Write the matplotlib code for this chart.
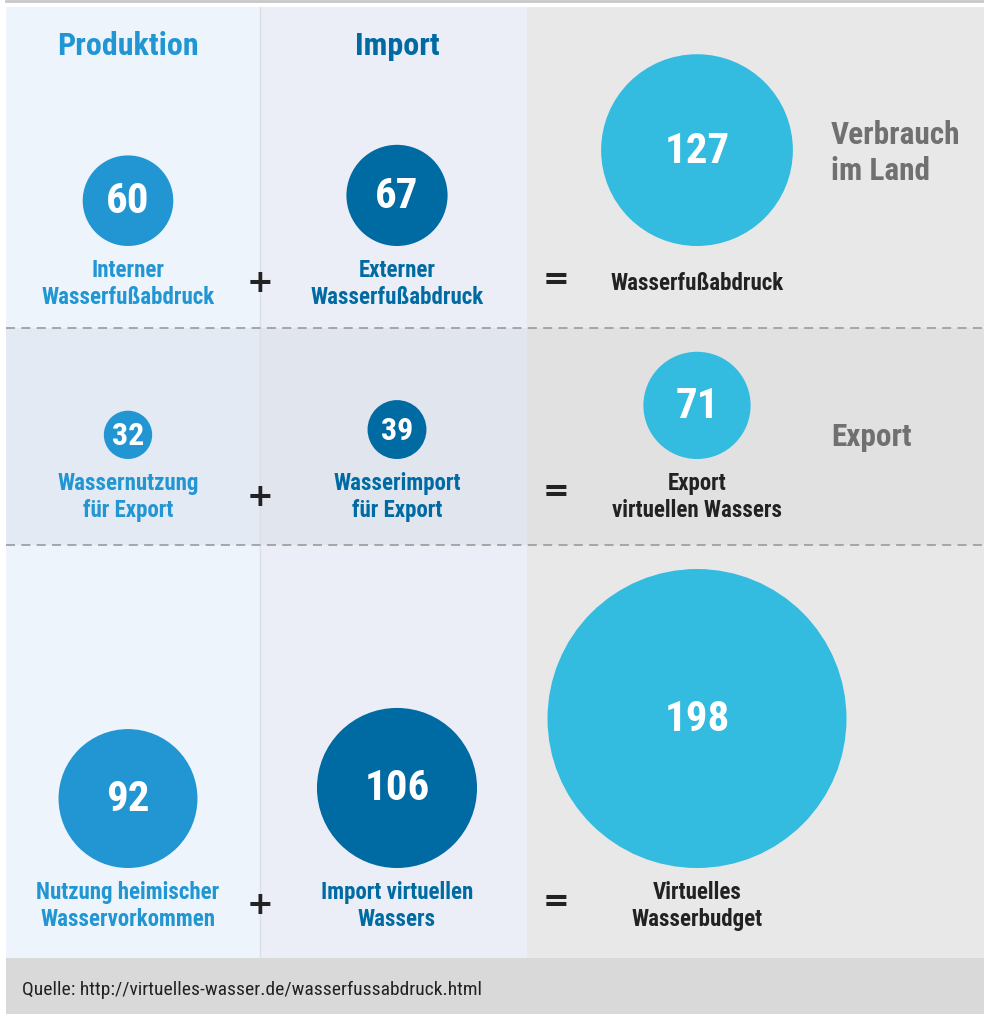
import matplotlib
matplotlib.use("Agg")
import matplotlib.pyplot as plt
from matplotlib.patches import Rectangle, Circle
from matplotlib import font_manager

# data
produktion_vals = [60, 32, 92]
import_vals = [67, 39, 106]
total_vals = [127, 71, 198]
produktion_labels = ["Interner\nWasserfußabdruck", "Wassernutzung\nfür Export",
                     "Nutzung heimischer\nWasservorkommen"]
import_labels = ["Externer\nWasserfußabdruck", "Wasserimport\nfür Export",
                 "Import virtuellen\nWassers"]
total_labels = ["Wasserfußabdruck", "Export\nvirtuellen Wassers",
                "Virtuelles\nWasserbudget"]
side_labels = ["Verbrauch\nim Land", "Export", ""]
headers = ["Produktion", "Import"]
source = "Quelle: http://virtuelles-wasser.de/wasserfussabdruck.html"

# pick a narrow font if there is one
installed = {f.name for f in font_manager.fontManager.ttflist}
font = "DejaVu Sans"
for name in ["Liberation Sans Narrow", "Roboto Condensed", "Open Sans Condensed",
             "Noto Sans", "Roboto"]:
    if name in installed:
        font = name
        break
plt.rcParams["font.family"] = [font, "DejaVu Sans"]

c_prod = "#2196D3"
c_imp = "#006AA3"
c_tot = "#33BBE0"
c_dark = "#222222"
c_side = "#707070"

fig = plt.figure(figsize=(9.84, 10.14), dpi=100)
ax = fig.add_axes([0, 0, 1, 1])
ax.set_xlim(0, 984)
ax.set_ylim(1014, 0)
ax.set_aspect("equal")
ax.axis("off")

# layout (pixels)
col_edges = [6, 260, 527, 984]
row_edges = [7, 328, 545, 958]
col_x = [128, 397, 697]
baselines = [246, 459, 868]
label_y = [284, 497, 906]
scale = 0.755  # radius in px per unit

bg = [["#EDF4FC", "#EBEEF6", "#E8E8E8"],
      ["#E3EAF3", "#E1E5EE", "#E1E1E1"],
      ["#EDF4FC", "#EBEEF6", "#E8E8E8"]]
for r in range(3):
    for c in range(3):
        ax.add_patch(Rectangle((col_edges[c], row_edges[r]),
                               col_edges[c + 1] - col_edges[c],
                               row_edges[r + 1] - row_edges[r],
                               facecolor=bg[r][c], edgecolor="none", zorder=0))
ax.plot([260, 260], [7, 958], color="#DCDFE5", lw=1, zorder=1)
ax.add_patch(Rectangle((6, 958), 978, 56, facecolor="#D9D9D9", edgecolor="none", zorder=0))
ax.plot([6, 984], [1, 1], color="#C8C8C8", lw=2, zorder=1)
for y in row_edges[1:3]:
    ax.plot([6, 984], [y, y], color="#A0A0A0", lw=1.3, ls=(0, (5, 3.5)), zorder=2)

for i, h in enumerate(headers):
    ax.text(col_x[i], 46, h, ha="center", va="center", fontsize=23, fontweight="bold",
            color=[c_prod, c_imp][i])

cols = [(produktion_vals, produktion_labels, c_prod, c_prod),
        (import_vals, import_labels, c_imp, c_imp),
        (total_vals, total_labels, c_tot, c_dark)]
for c, (vals, labels, fc, tc) in enumerate(cols):
    for r in range(3):
        rad = vals[r] * scale
        cy = baselines[r] - rad
        ax.add_patch(Circle((col_x[c], cy), rad, facecolor=fc, edgecolor="none", zorder=3))
        fs = 31 if rad > 40 else 23
        ax.text(col_x[c], cy + 1, str(vals[r]), ha="center", va="center", fontsize=fs,
                fontweight="bold", color="white", zorder=4)
        ax.text(col_x[c], label_y[r], labels[r], ha="center", va="center", fontsize=16.5,
                fontweight="bold", color=tc, linespacing=1.2, zorder=4)

for r in range(3):
    ax.text(260, label_y[r], "+", ha="center", va="center", fontsize=23,
            family="DejaVu Sans", fontweight="bold", color=c_dark, zorder=4)
    ax.text(556, label_y[r] - 4, "=", ha="center", va="center", fontsize=23,
            family="DejaVu Sans", fontweight="bold", color=c_dark, zorder=4)

side_y = [153, 437, 0]
for r in range(3):
    if side_labels[r]:
        ax.text(831, side_y[r], side_labels[r], ha="left", va="center", fontsize=22.5,
                fontweight="bold", color=c_side, linespacing=1.22)

ax.text(22, 990, source, ha="left", va="center", fontsize=14, color=c_dark)

fig.savefig("out.png", dpi=100)
